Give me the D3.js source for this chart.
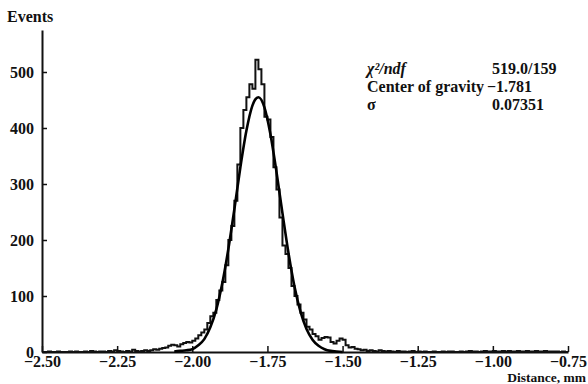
<!DOCTYPE html>
<html>
<head>
<meta charset="utf-8">
<script src="https://cdn.jsdelivr.net/npm/d3@7"></script>
<style>
  body { margin: 0; background: #fff; }
</style>
</head>
<body>
<script>
((() => {

// histogram: bins of 0.01 mm starting at -2.50
let binStart = -2.5;
let binWidth = 0.01;
let counts = [
  0, 0, 1, 0, 0, 1, 0, 0, 0, 1,
  0, 1, 0, 0, 1, 0, 2, 1, 0, 1,
  1, 0, 2, 1, 3, 2, 1, 0, 2, 1,
  4, 2, 1, 2, 3, 2, 3, 5, 4, 6,
  7, 8, 11, 13, 12, 10, 14, 16, 18, 17,
  20, 24, 30, 35, 40, 52, 64, 70, 93, 110,
  125, 155, 200, 225, 270, 335, 400, 432, 455, 478,
  470, 522, 505, 478, 420, 415, 384, 330, 290, 240,
  190, 175, 150, 118, 100, 85, 70, 58, 45, 40,
  32, 28, 22, 25, 27, 26, 18, 15, 20, 24,
  22, 12, 8, 9, 6, 5, 3, 4, 2, 3,
  2, 1, 3, 2, 1, 2, 1, 0, 2, 1,
  1, 0, 1, 2, 0, 1, 0, 1, 0, 0,
  1, 0, 0, 1, 0, 1, 1, 0, 0, 1,
  0, 1, 2, 1, 1, 0, 1, 2, 1, 1,
  2, 1, 1, 2, 1, 2, 1, 1, 2, 1,
  1, 2, 1, 1, 2, 1, 1, 2, 1, 1,
  1, 1, 0, 1, 0
];

// fitted curve
let fitX = [-2.06, -2.04, -2.02, -2.00, -1.98, -1.96, -1.94, -1.92, -1.90, -1.88,
  -1.86, -1.84, -1.82, -1.80, -1.78, -1.76, -1.74, -1.72, -1.70, -1.68,
  -1.66, -1.64, -1.62, -1.60, -1.58, -1.56, -1.54, -1.52, -1.50];
let fitY = [1, 2, 3, 5, 12, 23, 44, 76, 123, 184,
  255, 330, 395, 440, 455, 437, 389, 322, 248, 177,
  117, 72, 41, 22, 11, 5, 2, 1, 0];

let xTicks = [-2.5, -2.25, -2.0, -1.75, -1.5, -1.25, -1.0, -0.75];
let yTicks = [0, 100, 200, 300, 400, 500];

let statNames = ['χ²/ndf', 'Center of gravity', 'σ'];
let statValues = ['519.0/159', '\u22121.781', '0.07351'];

let serif = '"Liberation Serif", "Times New Roman", "DejaVu Serif", serif';

let width = 588, height = 384;

let svg = d3.select('body')
  .append('svg')
    .attr('width', width)
    .attr('height', height);

let xScale = d3.scaleLinear()
  .domain([-2.5, -0.75])
  .range([42, 568]);

let yScale = d3.scaleLinear()
  .domain([0, 575])
  .range([352, 30]);

// axes
let xAxis = svg.append('g')
  .attr('transform', `translate(0,${yScale(0)})`)
  .call(d3.axisBottom(xScale)
    .tickValues(xTicks)
    .tickFormat(d3.format('.2f'))
    .tickSizeInner(-6)
    .tickSizeOuter(0)
    .tickPadding(4));

let yAxis = svg.append('g')
  .attr('transform', `translate(${xScale(-2.5)},0)`)
  .call(d3.axisLeft(yScale)
    .tickValues(yTicks)
    .tickSizeInner(-5)
    .tickSizeOuter(0)
    .tickPadding(8));

svg.selectAll('.domain').attr('stroke', '#111').attr('stroke-width', 2);
svg.selectAll('.tick line').attr('stroke', '#111').attr('stroke-width', 1.5);
xAxis.select('.tick:first-child line').remove();
yAxis.select('.tick:first-child line').remove();
// the "0" sits just above the -2.50 label, as in the scan
yAxis.select('.tick:first-child text').attr('dy', '-0.1em');

// histogram as a step line
let edges = counts.map((c, i) => [binStart + i * binWidth, c]);
edges.push([binStart + counts.length * binWidth, counts[counts.length - 1]]);

let step = d3.line()
  .x(d => xScale(d[0]))
  .y(d => yScale(d[1]))
  .curve(d3.curveStepAfter);

svg.append('path')
  .datum(edges)
  .attr('fill', 'none')
  .attr('stroke', '#111')
  .attr('stroke-width', 2)
  .attr('d', step);

// fit curve
let fit = d3.line()
  .x((d, i) => xScale(fitX[i]))
  .y(d => yScale(d))
  .curve(d3.curveMonotoneX);

svg.append('path')
  .datum(fitY)
  .attr('fill', 'none')
  .attr('stroke', '#000')
  .attr('stroke-width', 2.6)
  .attr('d', fit);

// labels
svg.append('text')
  .attr('x', 7)
  .attr('y', 22)
  .style('font-size', '16px')
  .text('Events');

svg.append('text')
  .attr('x', 586)
  .attr('y', 382)
  .attr('text-anchor', 'end')
  .style('font-size', '13.5px')
  .text('Distance, mm');

// stats
statNames.forEach((s, i) => {
  svg.append('text')
    .attr('x', 367)
    .attr('y', 74 + i * 18)
    .style('font-size', '16px')
    .style('font-style', i === 0 ? 'italic' : 'normal')
    .text(s);
  svg.append('text')
    .attr('x', i === 1 ? 487 : 492)
    .attr('y', 74 + i * 18)
    .style('font-size', '16px')
    .text(statValues[i]);
});

svg.selectAll('text')
  .style('font-family', serif)
  .style('font-weight', 'bold')
  .attr('fill', '#111');
svg.selectAll('.tick text').style('font-size', '16px');

})());
</script>
</body>
</html>
